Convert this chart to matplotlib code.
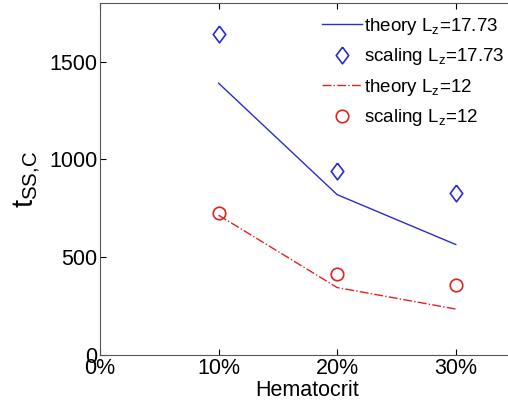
import matplotlib
matplotlib.use('Agg')
from matplotlib import pyplot as plt
from matplotlib.ticker import FuncFormatter

plt.rcParams['font.family'] = ['Liberation Sans', 'DejaVu Sans']

hct = [0.10, 0.20, 0.30]
theory_1773 = [1390, 820, 565]
scaling_1773 = [1643, 942, 829]
theory_12 = [715, 345, 235]
scaling_12 = [725, 415, 358]

# diamond a little taller than wide, like the original
diamond = [(0, 1), (0.75, 0), (0, -1), (-0.75, 0), (0, 1)]

fig = plt.figure(figsize=(5.08, 4.08), dpi=100)
ax = fig.add_axes([100/508, 53/408, 415/508, 352/408])

ax.plot(hct, theory_1773, '-', color='#2b2bd0', lw=1.0, label='theory L$_\\mathregular{z}$=17.73')
ax.plot(hct, scaling_1773, marker=diamond, mfc='none', mec='#2b2bd0', ms=12, mew=1.2, ls='none',
        label='scaling L$_\\mathregular{z}$=17.73')
ax.plot(hct, theory_12, '-.', color='#e52020', lw=1.0, label='theory L$_\\mathregular{z}$=12')
ax.plot(hct, scaling_12, 'o', mfc='none', mec='#e52020', ms=9, mew=1.2, ls='none',
        label='scaling L$_\\mathregular{z}$=12')

ax.set_xlim(0, 0.35)
ax.set_ylim(0, 1800)
ax.set_xticks([0, 0.1, 0.2, 0.3])
ax.set_yticks([0, 500, 1000, 1500])
ax.xaxis.set_major_formatter(FuncFormatter(lambda v, p: '{:.0f}%'.format(v*100)))
ax.tick_params(direction='in', top=True, right=True, labelsize=15.5, length=4, pad=2)
for s in ax.spines.values():
    s.set_color('#555555')

ax.set_xlabel('Hematocrit', fontsize=15.5, labelpad=1)
ax.set_ylabel('t$_\\mathregular{SS{,}C}$', fontsize=21, labelpad=4)

ax.legend(loc='upper right', bbox_to_anchor=(416/415, 0.995), frameon=False, fontsize=13.5,
          handlelength=2.1, handletextpad=0.15, labelspacing=0.5, borderaxespad=0.2)

plt.savefig('out.png')
